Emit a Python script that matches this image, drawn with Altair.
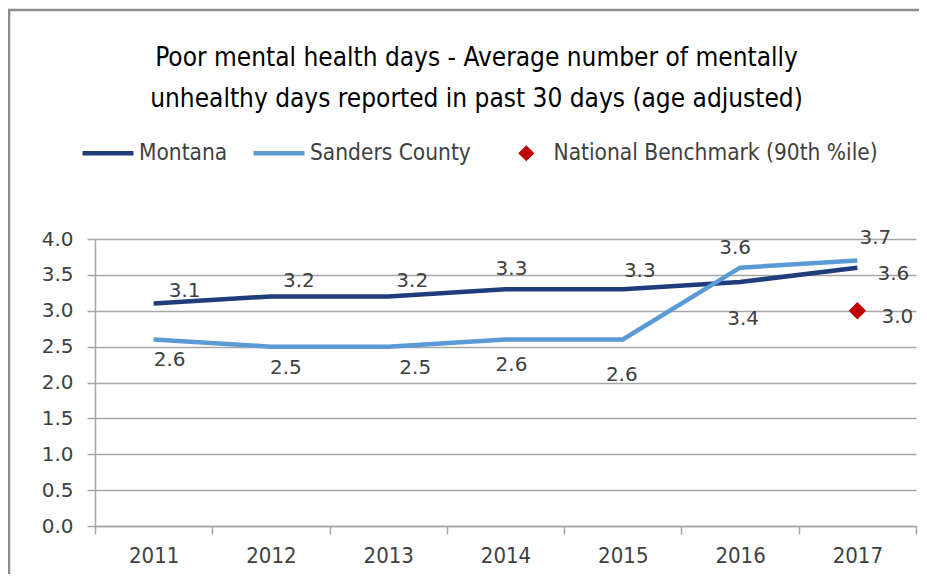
import altair as alt
import pandas as pd

# ---- data ----
years = [2011, 2012, 2013, 2014, 2015, 2016, 2017]
montana = [3.1, 3.2, 3.2, 3.3, 3.3, 3.4, 3.6]
sanders = [2.6, 2.5, 2.5, 2.6, 2.6, 3.6, 3.7]
bench_years = [2017]
bench_values = [3.0]
series_names = ["Montana", "Sanders County"]
bench_name = "National Benchmark (90th %ile)"
y_ticks = [0.0, 0.5, 1.0, 1.5, 2.0, 2.5, 3.0, 3.5, 4.0]
title_lines = ["Poor mental health days - Average number of mentally",
               "unhealthy days reported in past 30 days (age adjusted)"]

# ---- styling / label placement ----
COND = "DejaVu Sans Condensed, Liberation Sans Narrow, Noto Sans"
NUMF = "DejaVu Sans"
GRAY = "#A6A6A6"
LBL = "#404040"
colors = ["#1F3D7A", "#5B9BD5"]
bench_color = "#C00000"
offsets = {
    ("Montana", 2011): (31, -13), ("Montana", 2012): (28, -15), ("Montana", 2013): (24, -15),
    ("Montana", 2014): (6, -20), ("Montana", 2015): (17, -18), ("Montana", 2016): (3, 37),
    ("Montana", 2017): (36, 6),
    ("Sanders County", 2011): (16, 21), ("Sanders County", 2012): (15, 21),
    ("Sanders County", 2013): (27, 21), ("Sanders County", 2014): (6, 26),
    ("Sanders County", 2015): (-1, 36), ("Sanders County", 2016): (-5, -20),
    ("Sanders County", 2017): (18, -23),
    (bench_name, 2017): (40, 6),
}

W, H = 821, 287
band = W / 7.0

lines_df = pd.DataFrame({
    "year": years + years,
    "value": montana + sanders,
    "series": [series_names[0]] * len(years) + [series_names[1]] * len(years),
})
bench_df = pd.DataFrame({"year": bench_years, "value": bench_values, "bench": [bench_name]})

xscale = alt.Scale(domain=[2010.5, 2017.5], nice=False, zero=False)
yscale = alt.Scale(domain=[0, 4], nice=False)

x_axis = alt.Axis(
    values=[2010.5 + i for i in range(8)],
    labelExpr="datum.value < 2017 ? toString(datum.value + 0.5) : ''",
    labelOffset=band / 2, labelOverlap=False, labelBound=False, labelFlush=False,
    tickSize=8, tickColor=GRAY, tickWidth=1.5, domainColor=GRAY, domainWidth=1.5,
    labelFont=COND, labelFontSize=22, labelColor=LBL, labelPadding=11,
    grid=False, title=None,
)
y_axis = alt.Axis(
    values=y_ticks, format=".1f", grid=True, gridColor=GRAY, gridWidth=1.5,
    tickSize=8, tickColor=GRAY, tickWidth=1.5, domainColor=GRAY, domainWidth=1.5,
    labelFont=NUMF, labelFontSize=20, labelColor=LBL, labelPadding=14, title=None,
    labelOverlap=False, labelFlush=False,
)

base_x = alt.X("year:Q", scale=xscale, axis=x_axis)
base_y = alt.Y("value:Q", scale=yscale, axis=y_axis)

frame = alt.Chart(pd.DataFrame({"k": [0]})).mark_rect(
    fillOpacity=0, stroke="#8C8C8C", strokeWidth=2.5
).encode(x=alt.value(-86), x2=alt.value(W + 40), y=alt.value(-229), y2=alt.value(H + 80))

lines = alt.Chart(lines_df).mark_line(strokeWidth=4.5).encode(
    x=base_x, y=base_y,
    color=alt.Color("series:N", scale=alt.Scale(domain=series_names, range=colors),
                    legend=alt.Legend(orient="none", legendX=-15, legendY=-114, direction="horizontal",
                                      title=None, symbolType="stroke", symbolSize=2600,
                                      symbolStrokeWidth=4.5, labelFont=COND, labelFontSize=22.5,
                                      labelColor=LBL, columnPadding=16, labelOffset=3, padding=0,
                                      labelLimit=400)),
)

bench = alt.Chart(bench_df).mark_point(filled=True, color=bench_color, size=300, opacity=1).encode(
    x=base_x, y=base_y,
    shape=alt.Shape("bench:N", scale=alt.Scale(domain=[bench_name], range=["diamond"]),
                    legend=alt.Legend(orient="none", legendX=420, legendY=-97, title=None,
                                      symbolFillColor=bench_color, symbolStrokeColor=bench_color,
                                      symbolSize=256, labelFont=COND, labelFontSize=22.5,
                                      labelColor=LBL, labelOffset=16, padding=0, labelLimit=500)),
)

label_layers = []
for df, key in ((lines_df, "series"), (bench_df, "bench")):
    for _, r in df.iterrows():
        dx, dy = offsets[(r[key], int(r["year"]))]
        label_layers.append(
            alt.Chart(pd.DataFrame({"year": [r["year"]], "value": [r["value"]]}))
            .mark_text(font=NUMF, fontSize=20, color=LBL, dx=dx, dy=dy)
            .encode(x=base_x, y=base_y, text=alt.Text("value:Q", format=".1f"))
        )

chart = alt.layer(frame, lines, bench, *label_layers).properties(
    width=W, height=H,
    autosize=alt.AutoSizeParams(type="none"),
    padding={"left": 87, "top": 231, "right": 3, "bottom": 48},
    title=alt.TitleParams(text=title_lines, anchor="middle", frame="group", font=COND,
                          fontSize=26, fontWeight="normal", color="#000000", lineHeight=41,
                          offset=-103, dx=-29),
).resolve_scale(color="independent", shape="independent").configure_view(stroke=None)

chart.save("out.html", embed_options={"renderer": "svg", "actions": False})
